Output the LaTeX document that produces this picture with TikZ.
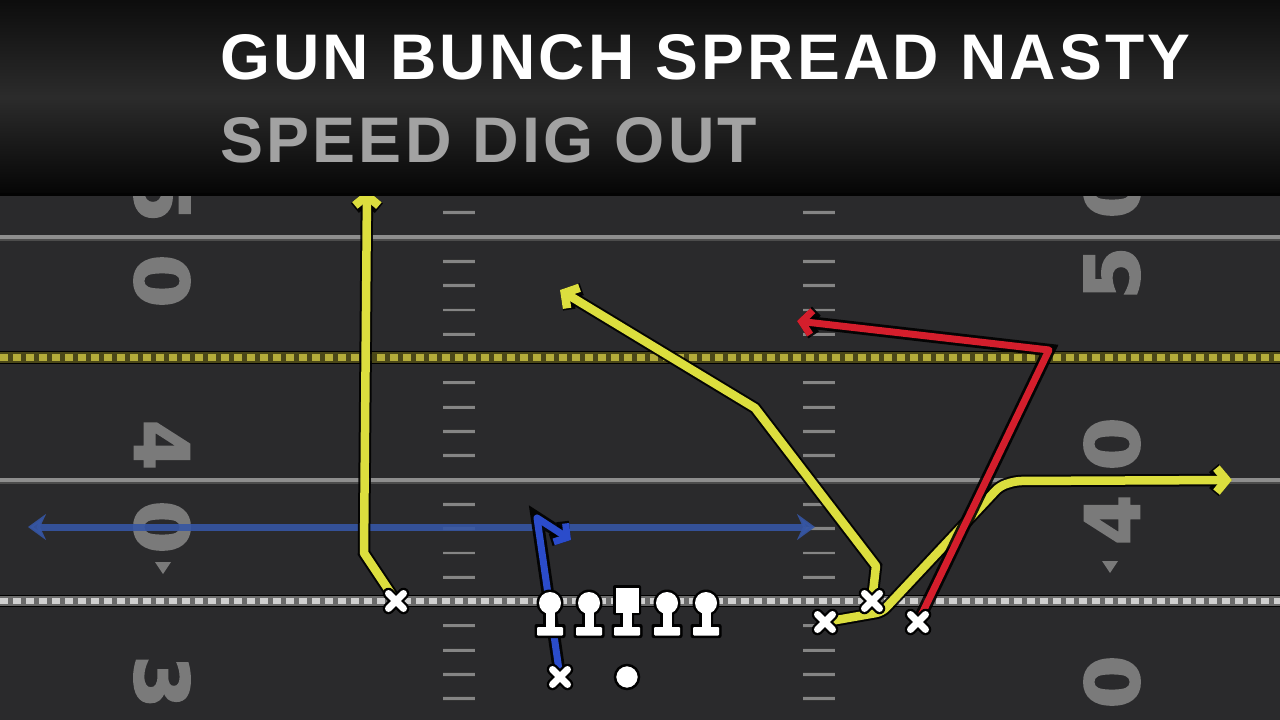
\documentclass[tikz,border=0pt]{standalone}
\usepackage{fontspec}
\setmainfont{Liberation Sans}
\newfontfamily\numfont{DejaVu Sans}[BoldFeatures={FakeBold=2.5}]
\usepackage{graphicx}
\usetikzlibrary{arrows.meta,calc}
\definecolor{fieldbg}{HTML}{2A2A2C}
\definecolor{yardline}{HTML}{8E8E8E}
\definecolor{hashc}{HTML}{858585}
\definecolor{numc}{HTML}{7A7A7A}
\definecolor{ryellow}{HTML}{DCDE3E}
\definecolor{rred}{HTML}{D41E2C}
\definecolor{rblue}{HTML}{2B4CCB}
\definecolor{mblue}{HTML}{3656A4}
\definecolor{subgray}{HTML}{A2A2A2}
\definecolor{fdbase}{HTML}{4A4718}
\definecolor{fddash}{HTML}{B4AC3A}
\definecolor{losbase}{HTML}{6A6A6A}
\definecolor{losdash}{HTML}{D0D0D0}
\tikzset{
  outl/.style={preaction={draw=black, line width=12.5pt, opacity=0.9}},
  yroute/.style={draw=ryellow, line width=8.5pt, line join=round, line cap=round, outl,
     -{Straight Barb[length=10pt,width=24pt]}},
  rroute/.style={draw=rred, line width=7pt, line join=round, line cap=round, outl,
     -{Straight Barb[length=10pt,width=24pt]}},
  broute/.style={draw=rblue, line width=7pt, line join=round, line cap=round, outl,
     -{Straight Barb[length=9pt,width=22pt]}},
  motion/.style={draw=mblue, line width=7pt, opacity=0.9,
     {Stealth[length=18pt,width=26pt,inset=6pt]}-{Stealth[length=18pt,width=26pt,inset=6pt]}},
  yardnum/.style={text=numc, inner sep=0pt, font=\numfont\bfseries},
  xmark/.pic={
    \draw[black, line width=11.5pt, line cap=round] (-7.5,-7.5) -- (7.5,7.5) (-7.5,7.5) -- (7.5,-7.5);
    \draw[white, line width=7pt, line cap=round] (-7.5,-7.5) -- (7.5,7.5) (-7.5,7.5) -- (7.5,-7.5);
  },
  lineman/.pic={
    \fill[black] (0,0) circle (13.5);
    \fill[black, rounded corners=2pt] (-7,6) rectangle (7,27) (-15.5,21) rectangle (15.5,35);
    \fill[white] (0,0) circle (11);
    \fill[white] (-4.5,8) rectangle (4.5,26);
    \fill[white, rounded corners=1pt] (-13,24) rectangle (13,32.5);
  },
  center/.pic={
    \fill[black, rounded corners=2pt] (-14,-18) rectangle (14,12);
    \fill[black, rounded corners=2pt] (-7,6) rectangle (7,27) (-15.5,21) rectangle (15.5,35);
    \fill[white] (-11.5,-15) rectangle (11.5,10);
    \fill[white] (-4.5,8) rectangle (4.5,26);
    \fill[white, rounded corners=1pt] (-13,24) rectangle (13,32.5);
  },
}
\begin{document}
\begin{tikzpicture}[x=1pt,y=-1pt]
\useasboundingbox (0,0) rectangle (1280,720);
\fill[fieldbg] (0,0) rectangle (1280,720);

% yard lines
\draw[black!70, line width=6pt] (0,238) -- (1280,238) (0,481) -- (1280,481);
\draw[yardline, line width=3.5pt] (0,237) -- (1280,237) (0,480) -- (1280,480);

% first down line
\draw[black, line width=13pt] (0,357) -- (1280,357);
\draw[fdbase, line width=11pt] (0,357) -- (1280,357);
\draw[fddash, line width=7pt, dash pattern=on 8pt off 5pt] (0,357) -- (1280,357);

% line of scrimmage
\draw[black, line width=12pt] (0,601) -- (1280,601);
\draw[losbase, line width=10pt] (0,601) -- (1280,601);
\draw[losdash, line width=6.5pt, dash pattern=on 8pt off 5pt] (0,601) -- (1280,601);

% hash marks
\foreach \k in {-1,1,2,3,4,6,7,8,9,11,12,13,14,16,17,18,19}{
  \draw[black!80, line width=4.5pt] (443,{237+24.3*\k}) -- (475,{237+24.3*\k}) (803,{237+24.3*\k}) -- (835,{237+24.3*\k});
  \draw[hashc, line width=2.8pt] (443,{237+24.3*\k}) -- (475,{237+24.3*\k}) (803,{237+24.3*\k}) -- (835,{237+24.3*\k});
}

% yard numbers
\node[yardnum, rotate=-90] (nl5) at (162,196) {\resizebox{53pt}{55pt}{5}};
\node[yardnum, rotate=-90] (nl0a) at (162,281) {\resizebox{53pt}{55pt}{0}};
\node[yardnum, rotate=-90] (nl4) at (162,445) {\resizebox{50pt}{55pt}{4}};
\node[yardnum, rotate=-90] (nl0b) at (162,527) {\resizebox{53pt}{55pt}{0}};
\node[yardnum, rotate=-90] (nl3) at (162,682) {\resizebox{53pt}{55pt}{3}};
\node[yardnum, rotate=90] (nr0a) at (1112,192) {\resizebox{53pt}{55pt}{0}};
\node[yardnum, rotate=90] (nr5) at (1112,273) {\resizebox{53pt}{55pt}{5}};
\node[yardnum, rotate=90] (nr0b) at (1112,444) {\resizebox{53pt}{55pt}{0}};
\node[yardnum, rotate=90] (nr4) at (1112,520) {\resizebox{50pt}{55pt}{4}};
\node[yardnum, rotate=90] (nr0c) at (1112,682) {\resizebox{53pt}{55pt}{0}};
\fill[numc] (155,562) -- (171,562) -- (163,574) -- cycle;
\fill[numc] (1102,561) -- (1118,561) -- (1110,573) -- cycle;

% players
\coordinate (x1) at (396,601);
\coordinate (x2) at (560,677);
\coordinate (x3) at (825,622);
\coordinate (x4) at (872,601);
\coordinate (x5) at (918,622);
\coordinate (qb) at (627,677);

% waypoints
\coordinate (ml) at (28,527);
\coordinate (mr) at (815,527);
\coordinate (a1) at (364,553);
\coordinate (a1e) at (367,190);
\coordinate (b1) at (537,518);
\coordinate (b1e) at (571,540);
\coordinate (c1) at (876,566);
\coordinate (c2) at (755,408);
\coordinate (c1e) at (560,290);
\coordinate (d1) at (882,612);
\coordinate (d2) at (1000,486);
\coordinate (d3) at (1016,481);
\coordinate (d1e) at (1232,480);
\coordinate (e1) at (1049,350);
\coordinate (e1e) at (797,321);

% motion line
\draw[motion] (ml) -- (mr);

% routes
\draw[yroute] (x1) -- (a1) -- (a1e);
\draw[broute] (x2) -- (b1) -- (b1e);
\draw[yroute] (x4) -- (c1) -- (c2) -- (c1e);
\draw[yroute, rounded corners=6pt] (x3) -- (d1) -- (d2) -- (d3) -- (d1e);
\draw[rroute] (x5) -- (e1) -- (e1e);

% X marks
\foreach \p in {x1,x2,x3,x4,x5}{ \pic at (\p) {xmark}; }

% line
\pic (lt) at (550,603) {lineman};
\pic (lg) at (589,603) {lineman};
\pic (cc) at (627,603) {center};
\pic (rg) at (667,603) {lineman};
\pic (rt) at (706,603) {lineman};
\filldraw[fill=white, draw=black, line width=2.5pt] (qb) circle (12);

% header
\shade[top color=black!95, bottom color=black!98, middle color=black!83] (0,0) rectangle (1280,195);
\fill[black, opacity=0.4] (0,193) rectangle (1280,196);

% title
\node[anchor=south west, inner sep=0pt, text=white] (title) at (220,80)
  {\resizebox{970pt}{45pt}{\addfontfeatures{LetterSpace=5}\bfseries GUN BUNCH SPREAD NASTY}};
\node[anchor=south west, inner sep=0pt, text=subgray] (sub) at (220,163)
  {\resizebox{537pt}{45pt}{\addfontfeatures{LetterSpace=5}\bfseries SPEED DIG OUT}};
\end{tikzpicture}
\end{document}
